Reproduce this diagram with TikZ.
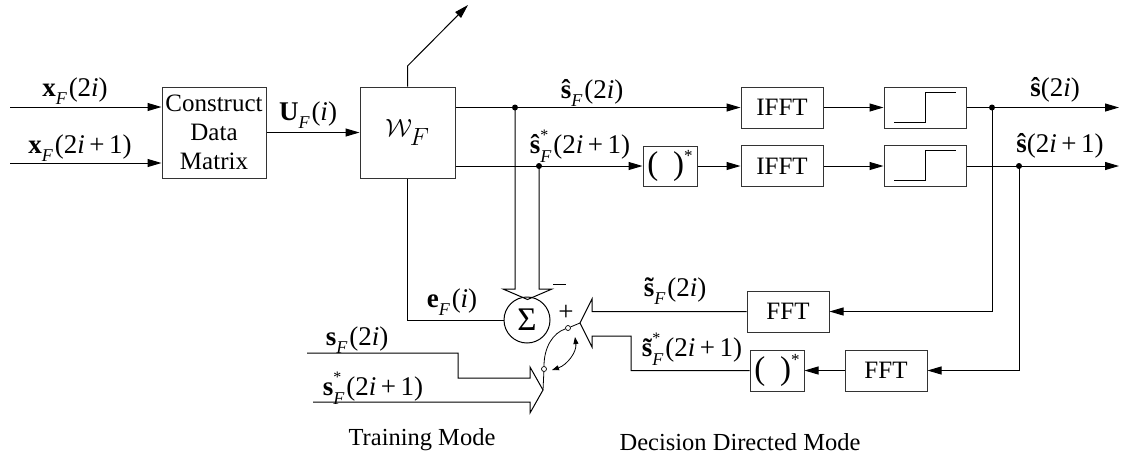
\documentclass[tikz,border=0pt]{standalone}
\usepackage{fontspec}
\setmainfont{Liberation Serif}
\usetikzlibrary{arrows.meta,calc}

% small helpers for the signal names
\newcommand{\subF}{\raisebox{-0.32em}{\fontsize{18}{18}\selectfont\itshape F}\kern2pt}
\newcommand{\supst}{\raisebox{0.5em}{\fontsize{16}{16}\selectfont *}}
\newcommand{\stF}{\rlap{\supst}\subF}
\newcommand{\ii}{\textit{i}}
\newcommand{\conjop}{\fontsize{33}{33}\selectfont(\hspace{0.45em})\raisebox{0.4em}{\fontsize{17}{17}\selectfont *}}

\begin{document}
\begin{tikzpicture}[x=1pt,y=-1pt,
  line width=1pt,
  every node/.style={font=\fontsize{25}{29}\selectfont},
  blk/.style={draw=black!80,inner sep=0pt},
  wide/.style={blk,minimum width=82pt,minimum height=41pt},
  conjbox/.style={blk,minimum width=54pt,minimum height=40pt},
  arr/.style={-{Triangle[length=14pt,width=8pt]}},
  lab/.style={inner sep=0pt,font=\fontsize{27}{30}\selectfont},
  dot/.style={circle,fill=black,inner sep=0pt,minimum size=6pt},
  contact/.style={circle,draw=black,fill=white,line width=0.7pt,inner sep=0pt,minimum size=5pt}]

\useasboundingbox (0,0) rectangle (1121,459);

% ---- blocks
\node[blk,minimum width=104pt,minimum height=91pt,align=center] (cdm) at (214,132.5) {Construct\\Data\\Matrix};
\node[blk,minimum width=95pt,minimum height=91pt,font=\fontsize{36}{36}\selectfont] (wf) at (407.5,132.5) {$\mathcal{W}_{F}$};
\node[conjbox] (conj1) at (670,166) {\conjop};
\node[wide] (ifft1) at (782,107.5) {IFFT};
\node[wide] (ifft2) at (782,166) {IFFT};
\node[wide] (thr1) at (925,107.5) {};
\node[wide] (thr2) at (925,166) {};
\node[wide] (fft1) at (788,311.5) {FFT};
\node[wide] (fft2) at (886,370.5) {FFT};
\node[conjbox,minimum height=41pt] (conj2) at (777,370.5) {\conjop};
\node[circle,draw=black,minimum size=46pt,inner sep=0pt,font=\fontsize{33}{33}\selectfont] (sum) at (527,320) {Σ};

% hard-decision step symbols
\foreach \t in {thr1,thr2}
  \draw[line width=0.8pt] ($(\t.center)+(-31,14.5)$) -- ($(\t.center)+(0,14.5)$)
        -- ($(\t.center)+(0,-15.5)$) -- ($(\t.center)+(31,-15.5)$);

% ---- inputs
\coordinate (in1) at (10,107);
\coordinate (in2) at (10,163);
\draw[arr] (in1) -- (in1 -| cdm.west);
\draw[arr] (in2) -- (in2 -| cdm.west);
\draw[arr] (cdm.east) -- (wf.west);

% adaptation arrow through the filter block
\coordinate (wtop) at (407.5,66);
\coordinate (adj) at (468,5);
\draw[arr] (wf.north) -- (wtop) -- (adj);

% ---- forward paths
\coordinate (o1) at (wf.east |- ifft1.center);
\coordinate (o2) at (wf.east |- conj1.center);
\draw[arr] (o1) -- (ifft1.west);
\draw[arr] (ifft1.east) -- (thr1.west);
\draw[arr] (o2) -- (conj1.west);
\draw[arr] (conj1.east) -- (ifft2.west);
\draw[arr] (ifft2.east) -- (thr2.west);
\coordinate (out1) at (1119,107.5);
\coordinate (out2) at (1119,166);
\draw[arr] (thr1.east) -- (out1);
\draw[arr] (thr2.east) -- (out2);

\node[dot] (d1) at (515,107.5) {};
\node[dot] (d2) at (539,166) {};
\node[dot] (d3) at (992,107.5) {};
\node[dot] (d4) at (1019,166) {};

% ---- decision-directed feedback
\draw[arr] (d3.center) |- (fft1.east);
\draw[arr] (d4.center) |- (fft2.east);
\draw[arr] (fft2.west) -- (conj2.east);

% error path back to the filter
\draw (wf.south) |- (sum.west);

% hollow arrow carrying the estimates into the summer
\draw (d1.center) -- (515,289) -- (503,289) -- (527.5,299.5) -- (552,289) -- (539,289) -- (d2.center);

% hollow arrow of the decision-directed references
\coordinate (ddtip) at (580,323);
\draw (fft1.west) -- (592,311.5) -- (592,299) -- (ddtip) -- (592,347) -- (592,336)
      -- (631,336) -- (631,370.5) -- (conj2.west);

% hollow arrow of the training references
\coordinate (trtip) at (543,390);
\draw (307,353) -- (458,353) -- (458,378) -- (530,378) -- (530,367) -- (trtip)
      -- (530,413) -- (530,402) -- (313,402);

% mode switch
\node[contact] (ca) at (544,369) {};
\node[contact] (cb) at (568,328) {};
\draw[line width=0.8pt] (trtip) -- (ca);
\draw[line width=0.8pt] (cb) -- (ddtip);
\draw[line width=0.8pt] (ca) .. controls (544,347) and (553,333) .. (cb);
\draw[line width=0.8pt,{Triangle[length=7pt,width=5pt]}-{Triangle[length=7pt,width=5pt]}]
  (575,337) .. controls (577,352) and (567,365) .. (552,370);

\node[lab] (plus) at (566,313) {+};
\draw[line width=0.8pt] (553,284) coordinate (mA) -- (566,284) coordinate (mB);

% ---- signal names
\node[lab] (lx1) at (75,91) {{\bfseries x}\subF(2\ii)};
\node[lab] (lx2) at (80,148) {{\bfseries x}\subF(2\ii\,+\,1)};
\node[lab] (lu) at (308,115) {{\bfseries U}\subF(\ii)};
\node[lab] (ls1) at (592,93) {{\bfseries ŝ}\subF(2\ii)};
\node[lab] (ls2) at (580,146) {{\bfseries ŝ}\stF(2\ii\,+\,1)};
\node[lab] (lo1) at (1055,90) {{\bfseries ŝ}(2\ii)};
\node[lab] (lo2) at (1060,146) {{\bfseries ŝ}(2\ii\,+\,1)};
\node[lab] (lt1) at (675,291) {{\bfseries\~{s}}\subF(2\ii)};
\node[lab] (lt2) at (692,349) {{\bfseries\~{s}}\stF(2\ii\,+\,1)};
\node[lab] (le) at (452,302) {{\bfseries e}\subF(\ii)};
\node[lab] (lr1) at (357,340) {{\bfseries s}\subF(2\ii)};
\node[lab] (lr2) at (373,388) {{\bfseries s}\stF(2\ii\,+\,1)};

\node[lab,font=\fontsize{24.5}{28}\selectfont] (mtr) at (422,440) {Training Mode};
\node[lab,font=\fontsize{24.5}{28}\selectfont] (mdd) at (740,442) {Decision Directed Mode};
\end{tikzpicture}
\end{document}
